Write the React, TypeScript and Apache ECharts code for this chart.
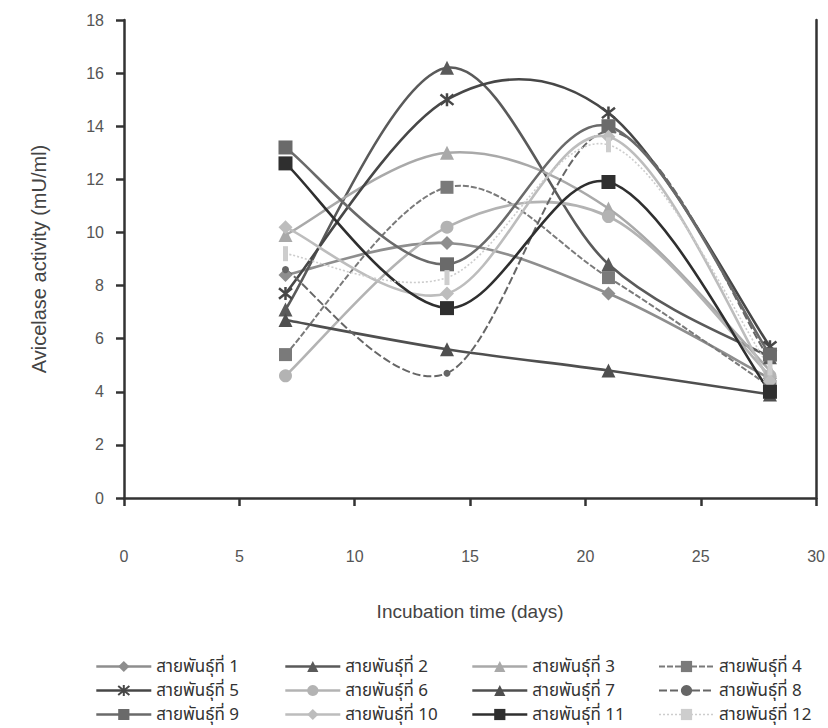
import React, { useEffect, useRef } from "react";
import * as echarts from "echarts";

const days = [7, 14, 21, 28];
const seriesNames = [
  "สายพันธุ์ที่ 1", "สายพันธุ์ที่ 2", "สายพันธุ์ที่ 3", "สายพันธุ์ที่ 4",
  "สายพันธุ์ที่ 5", "สายพันธุ์ที่ 6", "สายพันธุ์ที่ 7", "สายพันธุ์ที่ 8",
  "สายพันธุ์ที่ 9", "สายพันธุ์ที่ 10", "สายพันธุ์ที่ 11", "สายพันธุ์ที่ 12",
];
const strain1 = [8.4, 9.6, 7.7, 4.5];
const strain2 = [7.1, 16.2, 8.8, 5.3];
const strain3 = [9.9, 13.0, 10.9, 4.8];
const strain4 = [5.4, 11.7, 8.3, 4.2];
const strain5 = [7.7, 15.0, 14.5, 5.7];
const strain6 = [4.6, 10.2, 10.6, 4.6];
const strain7 = [6.7, 5.6, 4.8, 3.9];
const strain8 = [8.6, 4.7, 13.8, 5.2];
const strain9 = [13.2, 8.8, 14.0, 5.4];
const strain10 = [10.2, 7.7, 13.6, 4.4];
const strain11 = [12.6, 7.15, 11.9, 4.0];
const strain12 = [9.2, 8.3, 13.3, 4.9];
const allValues = [strain1, strain2, strain3, strain4, strain5, strain6, strain7, strain8, strain9, strain10, strain11, strain12];
const xTicks = { min: 0, max: 30, interval: 5 };
const yTicks = { min: 0, max: 18, interval: 2 };

const asterisk = "path://M1,1L9,9M9,1L1,9M5,0L5,10";

const styles: any[] = [
  { color: "#8e8e8e", symbol: "diamond", size: 14, width: 2.6, dash: null },
  { color: "#5a5a5a", symbol: "triangle", size: 14, width: 2.6, dash: null },
  { color: "#a9a9a9", symbol: "triangle", size: 14, width: 2.6, dash: null },
  { color: "#7a7a7a", symbol: "rect", size: 13, width: 2, dash: [6, 2] },
  { color: "#474747", symbol: asterisk, size: 13, width: 2.6, dash: null, stroke: true },
  { color: "#b3b3b3", symbol: "circle", size: 13, width: 2.6, dash: null },
  { color: "#4f4f4f", symbol: "triangle", size: 14, width: 2.6, dash: null },
  { color: "#666666", symbol: "circle", size: 7, width: 2, dash: [8, 3] },
  { color: "#6a6a6a", symbol: "rect", size: 14, width: 2.6, dash: null },
  { color: "#bdbdbd", symbol: "diamond", size: 14, width: 2.6, dash: null },
  { color: "#2f2f2f", symbol: "rect", size: 14, width: 2.6, dash: null },
  { color: "#cdcdcd", symbol: "rect", size: [5, 15], width: 1.6, dash: [2, 2] },
];

const legendCols = [
  { left: 95, items: [0, 4, 8] },
  { left: 284, items: [1, 5, 9] },
  { left: 471, items: [2, 6, 10] },
  { left: 658, items: [3, 7, 11] },
];

export default function App() {
  const ref = useRef<HTMLDivElement>(null);
  useEffect(() => {
    if (!ref.current) return;
    const chart = echarts.init(ref.current, undefined, { renderer: "svg" });
    const font = "'Liberation Sans', Arial, 'Noto Sans', sans-serif";

    const curveSeries = allValues.map((vals, i) => {
      const st = styles[i];
      const n = vals.length;
      const clamp = (k: number) => Math.max(0, Math.min(n - 1, k));
      return {
        type: "custom",
        name: "curve-" + i,
        data: days.map((d, j) => [d, vals[j]]),
        silent: true,
        z: 1,
        renderItem: (params: any, api: any) => {
          const j = params.dataIndex;
          if (j >= n - 1) return null;
          const P = (k: number) => api.coord([days[clamp(k)], vals[clamp(k)]]);
          const p0 = P(j - 1), p1 = P(j), p2 = P(j + 1), p3 = P(j + 2);
          return {
            type: "bezierCurve",
            shape: {
              x1: p1[0], y1: p1[1], x2: p2[0], y2: p2[1],
              cpx1: p1[0] + (p2[0] - p0[0]) / 6,
              cpy1: p1[1] + (p2[1] - p0[1]) / 6,
              cpx2: p2[0] - (p3[0] - p1[0]) / 6,
              cpy2: p2[1] - (p3[1] - p1[1]) / 6,
            },
            style: {
              stroke: st.color,
              lineWidth: st.width,
              lineDash: st.dash || undefined,
              fill: "none",
            },
          };
        },
      };
    });

    const markerSeries = allValues.map((vals, i) => {
      const st = styles[i];
      return {
        name: seriesNames[i],
        type: "line",
        data: days.map((d, j) => [d, vals[j]]),
        symbol: st.symbol,
        symbolSize: st.size,
        showAllSymbol: true,
        lineStyle: { color: st.color, width: st.width, opacity: 0 },
        itemStyle: st.stroke
          ? { color: st.color, borderColor: st.color, borderWidth: 2.5 }
          : { color: st.color, borderWidth: 0 },
        emphasis: { disabled: true },
        z: 3,
      };
    });

    const legends = legendCols.map((c) => ({
      orient: "vertical",
      left: c.left,
      top: 658,
      itemWidth: 55,
      itemHeight: 14,
      itemGap: 7,
      padding: 0,
      selectedMode: false,
      data: c.items.map((i) => ({
        name: seriesNames[i],
        lineStyle: {
          color: styles[i].color,
          width: styles[i].width,
          type: styles[i].dash || "solid",
          opacity: 1,
        },
      })),
      textStyle: { fontSize: 17, color: "#333", fontFamily: "'Noto Sans Thai', 'Noto Sans', 'DejaVu Sans', sans-serif", lineHeight: 16 },
    }));

    chart.setOption({
      animation: false,
      backgroundColor: "#ffffff",
      grid: { left: 124, right: 11, top: 20, bottom: 230, containLabel: false },
      legend: legends,
      xAxis: {
        type: "value",
        min: xTicks.min,
        max: xTicks.max,
        interval: xTicks.interval,
        name: "Incubation time (days)",
        nameLocation: "middle",
        nameGap: 104,
        nameTextStyle: { fontSize: 19, color: "#444", fontFamily: font },
        axisLine: { show: true, onZero: false, lineStyle: { color: "#333", width: 2.5 } },
        axisTick: { show: true, inside: false, length: 8, lineStyle: { color: "#333", width: 2.5 } },
        axisLabel: { margin: 50, fontSize: 16, color: "#555", fontFamily: font },
        splitLine: { show: false },
      },
      yAxis: [
        {
          type: "value",
          min: yTicks.min,
          max: yTicks.max,
          interval: yTicks.interval,
          name: "Avicelase activity (mU/ml)",
          nameLocation: "middle",
          nameGap: 75,
          nameTextStyle: { fontSize: 20, color: "#444", fontFamily: font },
          axisLine: { show: true, lineStyle: { color: "#333", width: 2.5 } },
          axisTick: { show: true, inside: false, length: 8, lineStyle: { color: "#333", width: 2.5 } },
          axisLabel: { margin: 20, fontSize: 16, color: "#555", fontFamily: font },
          splitLine: { show: false },
        },
        {
          type: "value",
          position: "right",
          min: yTicks.min,
          max: yTicks.max,
          interval: yTicks.interval,
          axisLine: { show: true, lineStyle: { color: "#333", width: 2.5 } },
          axisTick: { show: false },
          axisLabel: { show: false },
          splitLine: { show: false },
        },
      ],
      series: [...curveSeries, ...markerSeries],
    });
    return () => chart.dispose();
  }, []);
  return (
    <div
      ref={ref}
      style={{ position: "fixed", left: 0, top: 0, width: 828, height: 728, background: "#fff" }}
    />
  );
}
